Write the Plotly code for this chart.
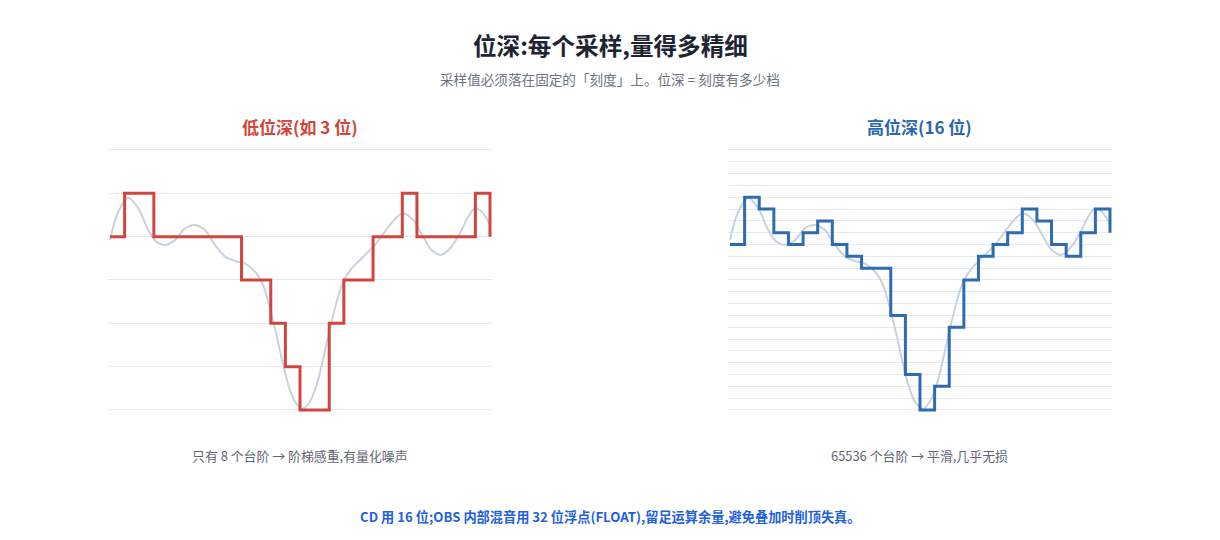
import plotly.graph_objects as go

# ---- data ----
# sample index positions (27 samples)
sample_idx = list(range(27))
# 3-bit quantized levels (grid lines 0..6)
q_low = [4, 5, 5, 4, 4, 4, 4, 4, 4, 3, 3, 2, 1, 0, 0, 2, 3, 3, 4, 4, 5, 4, 4, 4, 4, 5, 4]
# 16-bit (fine) quantized levels, drawn on a 22-step grid
q_high = [14, 18, 17, 15, 14, 15, 16, 14, 13, 12, 12, 8, 3, 0, 2, 7, 11, 13, 14, 15, 17, 16, 14, 13, 15, 17, 15]

# continuous analog signal (in 3-bit level units), read along sample index
sig_t = [0.00, 0.57, 1.25, 1.94, 2.62, 3.19, 3.76, 4.45, 5.13, 5.82, 6.50, 7.18, 7.87, 8.55,
         9.24, 9.92, 10.38, 10.83, 11.29, 11.75, 12.20, 12.66, 13.15, 13.60, 14.14, 14.59,
         15.05, 15.51, 15.96, 16.53, 17.11, 17.45, 18.13, 18.82, 19.50, 20.07, 20.75, 21.43,
         22.01, 22.65, 23.26, 23.94, 24.51, 24.97, 25.43, 26.00]
sig_v = [3.92, 4.58, 4.90, 4.65, 4.15, 3.88, 3.81, 3.92, 4.19, 4.27, 4.15, 3.81, 3.54, 3.44,
         3.38, 3.19, 2.96, 2.50, 1.88, 1.19, 0.58, 0.19, 0.03, 0.15, 0.58, 1.19,
         1.88, 2.50, 2.96, 3.27, 3.46, 3.58, 3.81, 4.12, 4.41, 4.54, 4.38, 4.00,
         3.69, 3.58, 3.73, 4.08, 4.46, 4.65, 4.58, 4.27]

low_levels = 6
high_levels = 22

title = "位深:每个采样,量得多精细"
subtitle = "采样值必须落在固定的「刻度」上。位深 = 刻度有多少档"
left_title = "低位深(如 3 位)"
right_title = "高位深(16 位)"
left_caption = "只有 8 个台阶 → 阶梯感重,有量化噪声"
right_caption = "65536 个台阶 → 平滑,几乎无损"
footer = "CD 用 16 位;OBS 内部混音用 32 位浮点(FLOAT),留足运算余量,避免叠加时削顶失真。"

# ---- styles ----
W, H = 1220, 540
FONT = "Noto Sans CJK SC, Noto Sans, sans-serif"
RED = "#d2453f"
BLUE = "#2d6bb4"
GRAY_CURVE = "#c8d2de"
GRID = "#e6eaf0"

def px_x(p):
    return p / W

def px_y(p):
    return (H - p) / H

xpad = 0.15
ypad_low = 0.1
ypad_high = ypad_low * high_levels / low_levels

fig = go.Figure()

# left panel
fig.add_trace(go.Scatter(x=sig_t, y=sig_v, mode="lines", line=dict(color=GRAY_CURVE, width=2, shape="spline"),
                         xaxis="x", yaxis="y", hoverinfo="skip", showlegend=False))
fig.add_trace(go.Scatter(x=sample_idx, y=q_low, mode="lines", line=dict(color=RED, width=3, shape="hv"),
                         xaxis="x", yaxis="y", showlegend=False))
# right panel
sig_v_high = [v * high_levels / low_levels for v in sig_v]
fig.add_trace(go.Scatter(x=sig_t, y=sig_v_high, mode="lines", line=dict(color=GRAY_CURVE, width=2, shape="spline"),
                         xaxis="x2", yaxis="y2", hoverinfo="skip", showlegend=False))
fig.add_trace(go.Scatter(x=sample_idx, y=q_high, mode="lines", line=dict(color=BLUE, width=3, shape="hv"),
                         xaxis="x2", yaxis="y2", showlegend=False))

unit_x = 380 / 26
unit_low = 260 / low_levels

def xdom(left, right):
    return [px_x(left - xpad * unit_x), px_x(right + xpad * unit_x)]

ydom = [px_y(410 + ypad_low * unit_low), px_y(150 - ypad_low * unit_low)]

axis_common = dict(showticklabels=False, ticks="", zeroline=False, showline=False, fixedrange=True)

fig.update_layout(
    width=W, height=H,
    margin=dict(l=0, r=0, t=0, b=0),
    paper_bgcolor="white", plot_bgcolor="white",
    font=dict(family=FONT, color="#1f2937"),
    xaxis=dict(domain=xdom(110, 490), range=[-xpad, 26 + xpad], showgrid=False, **axis_common),
    yaxis=dict(domain=ydom, range=[-ypad_low, low_levels + ypad_low], showgrid=True, gridcolor=GRID,
               gridwidth=1, tick0=0, dtick=1, **axis_common),
    xaxis2=dict(domain=xdom(730, 1110), range=[-xpad, 26 + xpad], showgrid=False, anchor="y2", **axis_common),
    yaxis2=dict(domain=ydom, range=[-ypad_high, high_levels + ypad_high], showgrid=True, gridcolor=GRID,
                gridwidth=1, tick0=0, dtick=1, anchor="x2", **axis_common),
    showlegend=False,
)

def ann(text, x, y, size, color, bold=False):
    fig.add_annotation(text=f"<b>{text}</b>" if bold else text, x=x, y=y, xref="paper", yref="paper",
                       xanchor="center", yanchor="middle", showarrow=False,
                       font=dict(family=FONT, size=size, color=color))

ann(title, px_x(610), px_y(45), 23.6, "#1e2532", bold=True)
ann(subtitle, px_x(610), px_y(79), 13.6, "#6b7280")
ann(left_title, px_x(300), px_y(127), 17, "#d1453b", bold=True)
ann(right_title, px_x(920), px_y(127), 17, "#2b67b0", bold=True)
ann(left_caption, px_x(300), px_y(455), 12.9, "#5f6672")
ann(right_caption, px_x(920), px_y(455), 12.9, "#5f6672")
ann(footer, px_x(610), px_y(516), 13.2, "#1f5fe0", bold=True)

fig.write_html("out.html", config={"displayModeBar": False},
               post_script="document.body.style.margin='0';")
